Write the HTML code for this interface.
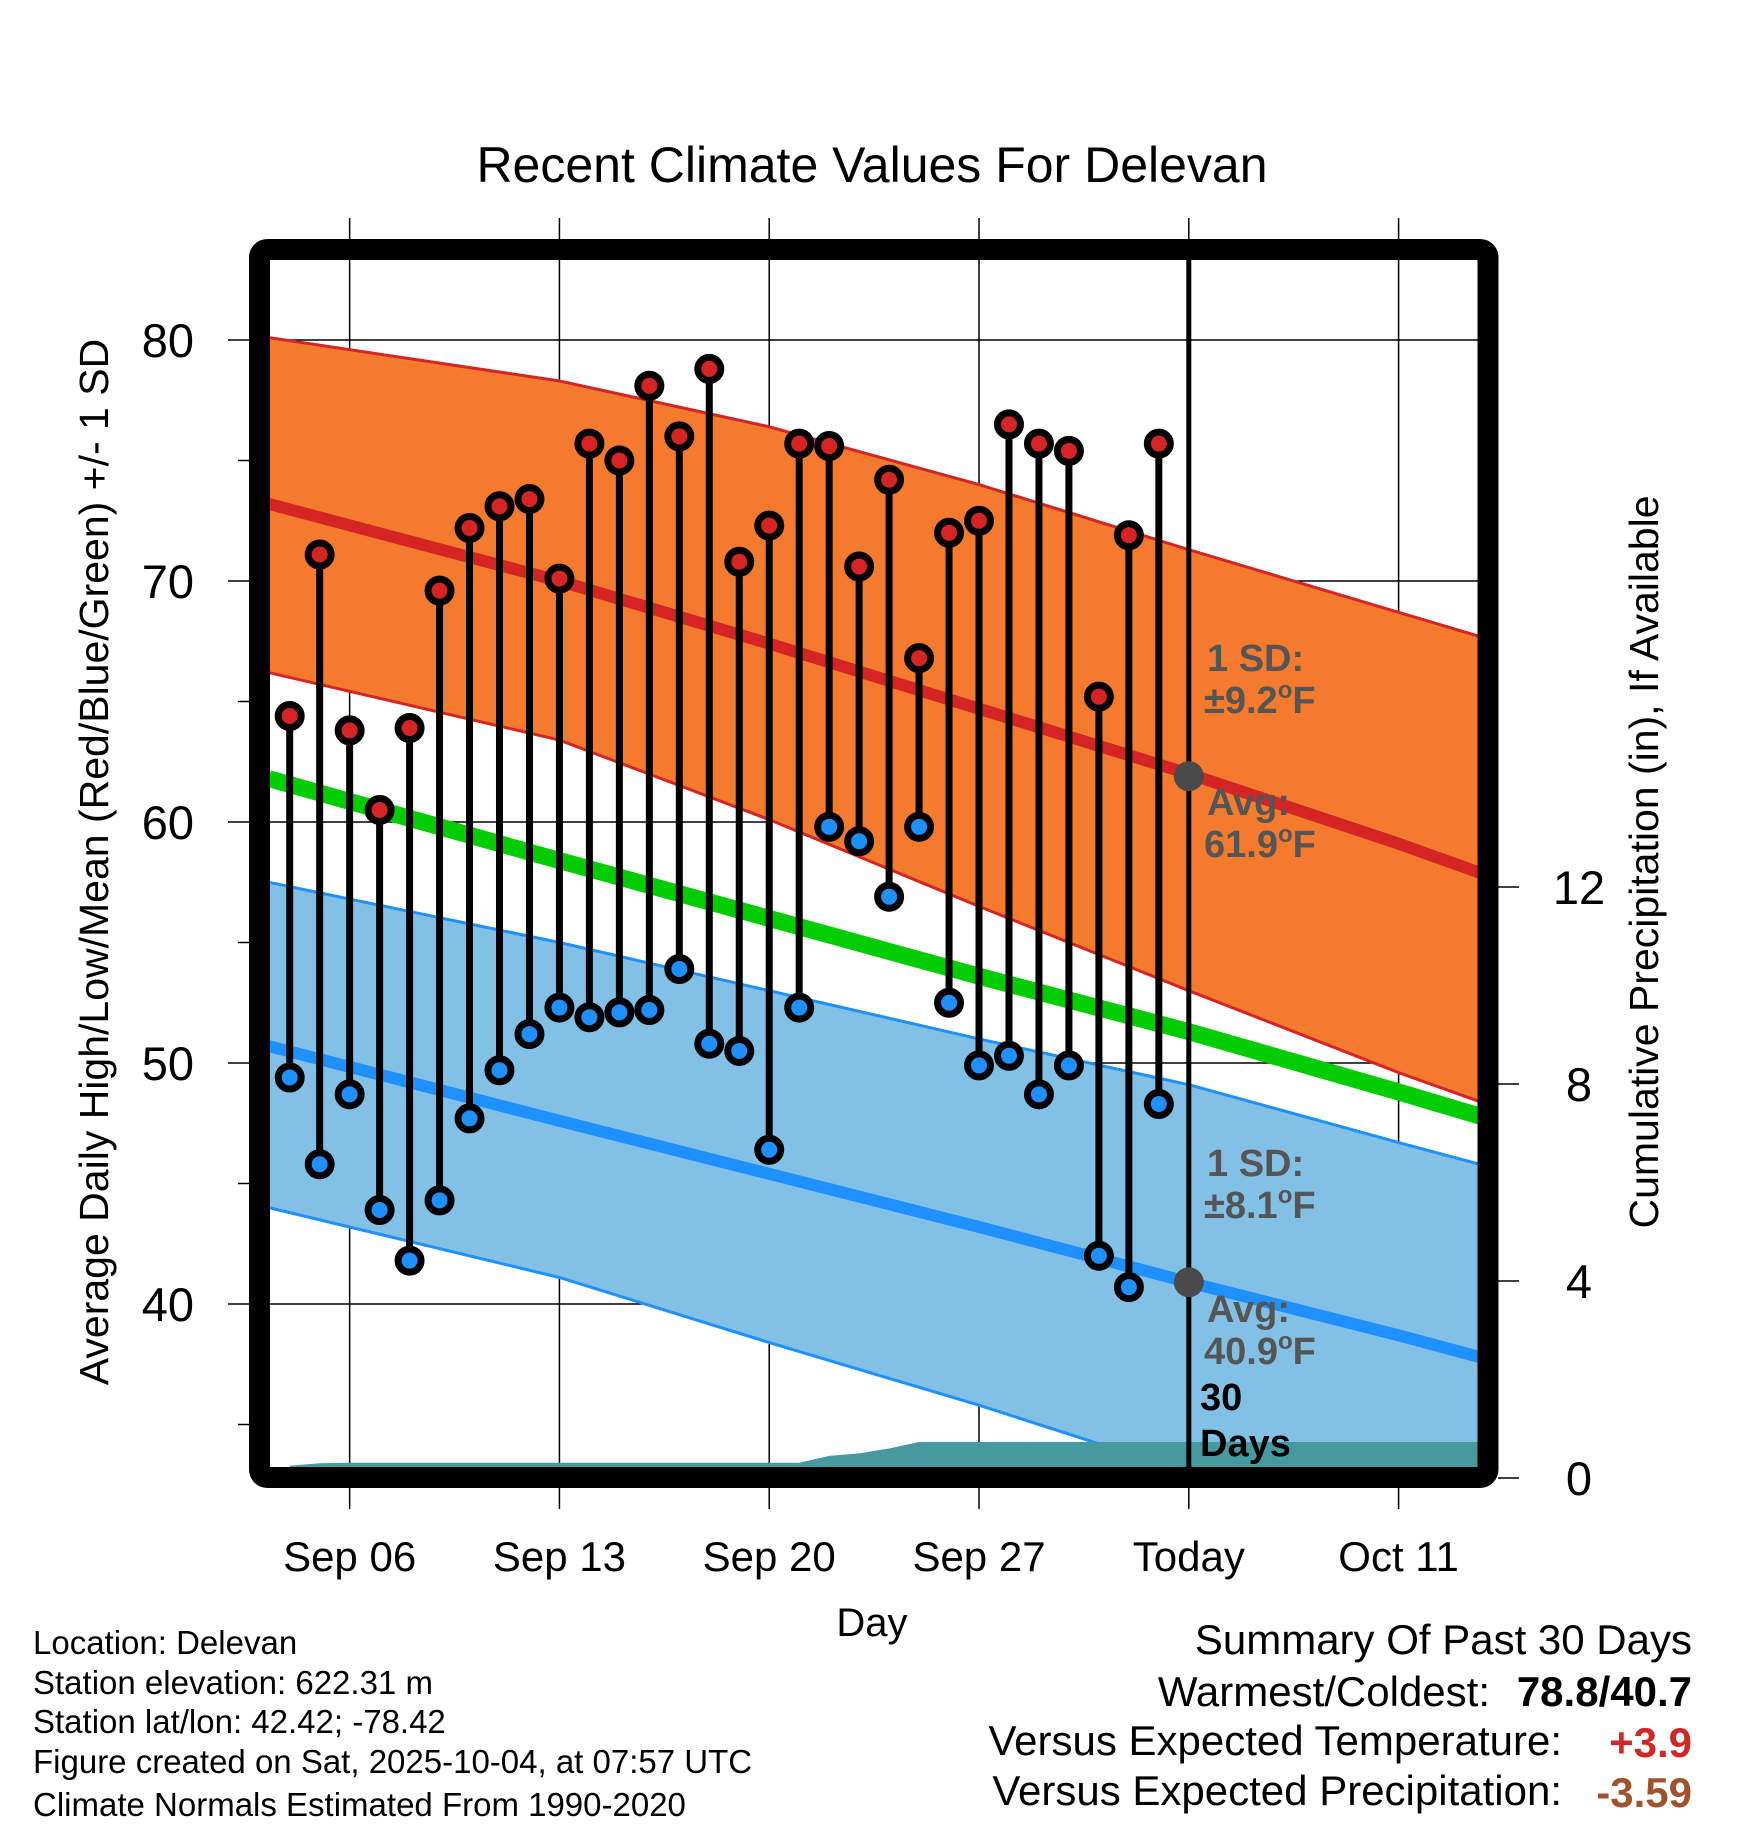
<!DOCTYPE html>
<html><head><meta charset="utf-8"><style>
html,body{margin:0;padding:0;background:#fff}
svg{display:block}
text{font-family:"Liberation Sans",Arial,sans-serif}
</style></head><body>
<svg id="chart" width="1748" height="1828" viewBox="0 0 1748 1828" xmlns="http://www.w3.org/2000/svg">
<defs><clipPath id="plotclip"><rect x="270" y="260" width="1208" height="1207"/></clipPath></defs>
<text x="872" y="182" font-size="50" text-anchor="middle">Recent Climate Values For Delevan</text>
<g id="grid"></g>
<g id="plot" clip-path="url(#plotclip)"></g>
<g id="marks"></g>
<rect x="259.5" y="249.5" width="1228.5" height="1228" rx="8" fill="none" stroke="#000" stroke-width="21"/>
<g id="axes"></g>
<text transform="translate(108,862) rotate(-90)" font-size="41" text-anchor="middle">Average Daily High/Low/Mean (Red/Blue/Green) +/- 1 SD</text>
<text transform="translate(1658,862) rotate(-90)" font-size="41" text-anchor="middle">Cumulative Precipitation (in), If Available</text>
<text x="872" y="1636" font-size="40" text-anchor="middle">Day</text>
<g font-size="33">
<text x="33" y="1654">Location: Delevan</text>
<text x="33" y="1694">Station elevation: 622.31 m</text>
<text x="33" y="1733">Station lat/lon: 42.42; -78.42</text>
<text x="33" y="1773">Figure created on Sat, 2025-10-04, at 07:57 UTC</text>
<text x="33" y="1816">Climate Normals Estimated From 1990-2020</text>
</g>
<g font-size="42">
<text x="1692" y="1654" text-anchor="end">Summary Of Past 30 Days</text>
<text x="1490" y="1706" text-anchor="end">Warmest/Coldest:</text>
<text x="1692" y="1706" text-anchor="end" font-weight="bold">78.8/40.7</text>
<text x="1562" y="1755" text-anchor="end">Versus Expected Temperature:</text>
<text x="1692" y="1757" text-anchor="end" font-weight="bold" fill="#D02828">+3.9</text>
<text x="1562" y="1805" text-anchor="end">Versus Expected Precipitation:</text>
<text x="1692" y="1807" text-anchor="end" font-weight="bold" fill="#A0522D">-3.59</text>
</g>
</svg>
<script>
const days = ["Sep 04","Sep 05","Sep 06","Sep 07","Sep 08","Sep 09","Sep 10","Sep 11","Sep 12","Sep 13","Sep 14","Sep 15","Sep 16","Sep 17","Sep 18","Sep 19","Sep 20","Sep 21","Sep 22","Sep 23","Sep 24","Sep 25","Sep 26","Sep 27","Sep 28","Sep 29","Sep 30","Oct 01","Oct 02","Oct 03"];
const highs = [64.4,71.1,63.8,60.5,63.9,69.6,72.2,73.1,73.4,70.1,75.7,75.0,78.1,76.0,78.8,70.8,72.3,75.7,75.6,70.6,74.2,66.8,72.0,72.5,76.5,75.7,75.4,65.2,71.9,75.7];
const lows = [49.4,45.8,48.7,43.9,41.8,44.3,47.7,49.7,51.2,52.3,51.9,52.1,52.2,53.9,50.8,50.5,46.4,52.3,59.8,59.2,56.9,59.8,52.5,49.9,50.3,48.7,49.9,42.0,40.7,48.3];
const precipCum = [0.25,0.30,0.31,0.31,0.31,0.31,0.31,0.31,0.31,0.31,0.31,0.31,0.31,0.31,0.31,0.31,0.31,0.31,0.45,0.50,0.60,0.73,0.73,0.73,0.73,0.73,0.73,0.73,0.73,0.73];
const normDays = [-0.7,9,16,23,30,37,39.7];
const normHighUpper = [80.1,78.3,76.4,74.0,71.3,68.7,67.7];
const normHigh = [73.2,70.0,67.4,64.7,62.0,59.1,57.9];
const normHighLower = [66.2,63.4,60.1,56.5,53.0,49.6,48.4];
const normMean = [61.8,58.4,56.0,53.6,51.3,48.8,47.8];
const normLowUpper = [57.5,55.0,53.0,51.0,49.1,46.7,45.8];
const normLow = [50.7,47.6,45.4,43.2,40.9,38.7,37.8];
const normLowLower = [44.0,41.1,38.4,35.8,33.0,30.5,29.5];
const xTickDays = [2,9,16,23,30,37];
const xTickLabels = ["Sep 06","Sep 13","Sep 20","Sep 27","Today","Oct 11"];
const yTicks = [40,50,60,70,80];
const yMinorTicks = [35,45,55,65,75];
const pTicks = [0,4,8,12];
const todayIdx = 30;
const todayHigh = 61.9, todayLow = 40.9;

const NS = "http://www.w3.org/2000/svg";
function X(d){ return 289.7 + d*29.97; }
function Y(t){ return 340 + (80 - t)*24.1; }
function P(p){ return 1478 - p*49.25; }
function mk(tag, attrs, parent){ const e=document.createElementNS(NS,tag); for(const k in attrs) e.setAttribute(k,attrs[k]); parent.appendChild(e); return e; }
const grid=document.getElementById('grid'), plot=document.getElementById('plot'), marks=document.getElementById('marks'), axes=document.getElementById('axes');

xTickDays.forEach((d,i)=>{
  const l=mk('line',{x1:X(d),x2:X(d),y1:218,y2:1509,stroke:'#000','stroke-width':1.5},grid);
  
  
});
yTicks.forEach(t=>{
  const l=mk('line',{x1:228,x2:1478,y1:Y(t),y2:Y(t),stroke:'#000','stroke-width':1.5},grid);
  
  
});

function pts(xs, ys){ return xs.map((d,i)=>X(d)+','+Y(ys[i])).join(' '); }
function band(up, lo, fill, name){
  const a=normDays.map((d,i)=>X(d)+','+Y(up[i]));
  const b=normDays.slice().reverse().map((d,j)=>{const i=normDays.length-1-j; return X(d)+','+Y(lo[i]);});
  const p=mk('polygon',{points:a.concat(b).join(' '),fill:fill},plot);
  
  
}
band(normHighUpper, normHighLower, '#F47A2E', 'high-sd-band');
band(normLowUpper, normLowLower, '#82C0E6', 'low-sd-band');
function line(ys, color, w, name){
  const l=mk('polyline',{points:pts(normDays,ys),fill:'none',stroke:color,'stroke-width':w,'stroke-linejoin':'round'},plot);
  
  
}
line(normHighUpper,'#D42424',3,'high-upper-edge');
line(normHighLower,'#D42424',3,'high-lower-edge');
line(normLowUpper,'#1E90FF',3,'low-upper-edge');
line(normLowLower,'#1E90FF',3,'low-lower-edge');
line(normHigh,'#D42424',12,'avg-high-line');
line(normMean,'#00CC00',17,'avg-mean-line');
line(normLow,'#1E90FF',12,'avg-low-line');

(function(){
  const lastX=1478;
  let s=[X(0)+','+P(0)];
  precipCum.forEach((v,i)=>{ s.push(X(i)+','+P(v)); });
  s.push(lastX+','+P(precipCum[precipCum.length-1]));
  s.push(lastX+','+P(0));
  const p=mk('polygon',{points:s.join(' '),fill:'#4799A0'},plot);
  
  
})();

const tl=mk('line',{x1:X(todayIdx),x2:X(todayIdx),y1:255,y2:1470,stroke:'#000','stroke-width':5},marks);


[todayHigh,todayLow].forEach(v=>{
  const c=mk('circle',{cx:X(todayIdx),cy:Y(v),r:15,fill:'#4a4a4a'},marks);
  
  
});

highs.forEach((h,i)=>{
  const l=mk('line',{x1:X(i),x2:X(i),y1:Y(h),y2:Y(lows[i]),stroke:'#000','stroke-width':7},marks);
  
  
});
highs.forEach((h,i)=>{
  const c=mk('circle',{cx:X(i),cy:Y(h),r:11.5,fill:'#D42424',stroke:'#000','stroke-width':7},marks);
  
  
  const c2=mk('circle',{cx:X(i),cy:Y(lows[i]),r:11.5,fill:'#1E90FF',stroke:'#000','stroke-width':7},marks);
  
  
});

function txt(x,y,s,fill,name){ const t=mk('text',{x:x,y:y,'font-size':38,'font-weight':'bold',fill:fill},marks); t.innerHTML=s;   return t; }
const deg='<tspan font-size="24" dy="-15">o</tspan><tspan dy="15">F</tspan>';
txt(1207,671,'1 SD:','#555','high-sd-label');
txt(1204,713,'±9.2'+deg,'#555','high-sd-value');
txt(1207,815,'Avg:','#555','high-avg-label');
txt(1204,857,'61.9'+deg,'#555','high-avg-value');
txt(1207,1176,'1 SD:','#555','low-sd-label');
txt(1204,1218,'±8.1'+deg,'#555','low-sd-value');
txt(1207,1322,'Avg:','#555','low-avg-label');
txt(1204,1364,'40.9'+deg,'#555','low-avg-value');
txt(1200,1410,'30','#000','days-count');
txt(1200,1456,'Days','#000','days-label');

yTicks.forEach(t=>{
  const tx=mk('text',{x:194,y:Y(t)+17,'font-size':47,'text-anchor':'end'},axes);
  tx.textContent=String(t);
  
  
});
yMinorTicks.forEach(t=>{
  const l=mk('line',{x1:238,x2:249,y1:Y(t),y2:Y(t),stroke:'#000','stroke-width':1.5},axes);
  
  
});
pTicks.forEach(p=>{
  const l=mk('line',{x1:1498,x2:1519,y1:P(p),y2:P(p),stroke:'#000','stroke-width':1.5},axes);
  
  
  const tx=mk('text',{x:1579,y:P(p)+17,'font-size':47,'text-anchor':'middle'},axes);
  tx.textContent=String(p);
  
  
});
xTickDays.forEach((d,i)=>{
  const tx=mk('text',{x:X(d),y:1571,'font-size':42,'text-anchor':'middle'},axes);
  tx.textContent=xTickLabels[i];
  
  
});
</script>
</body></html>
